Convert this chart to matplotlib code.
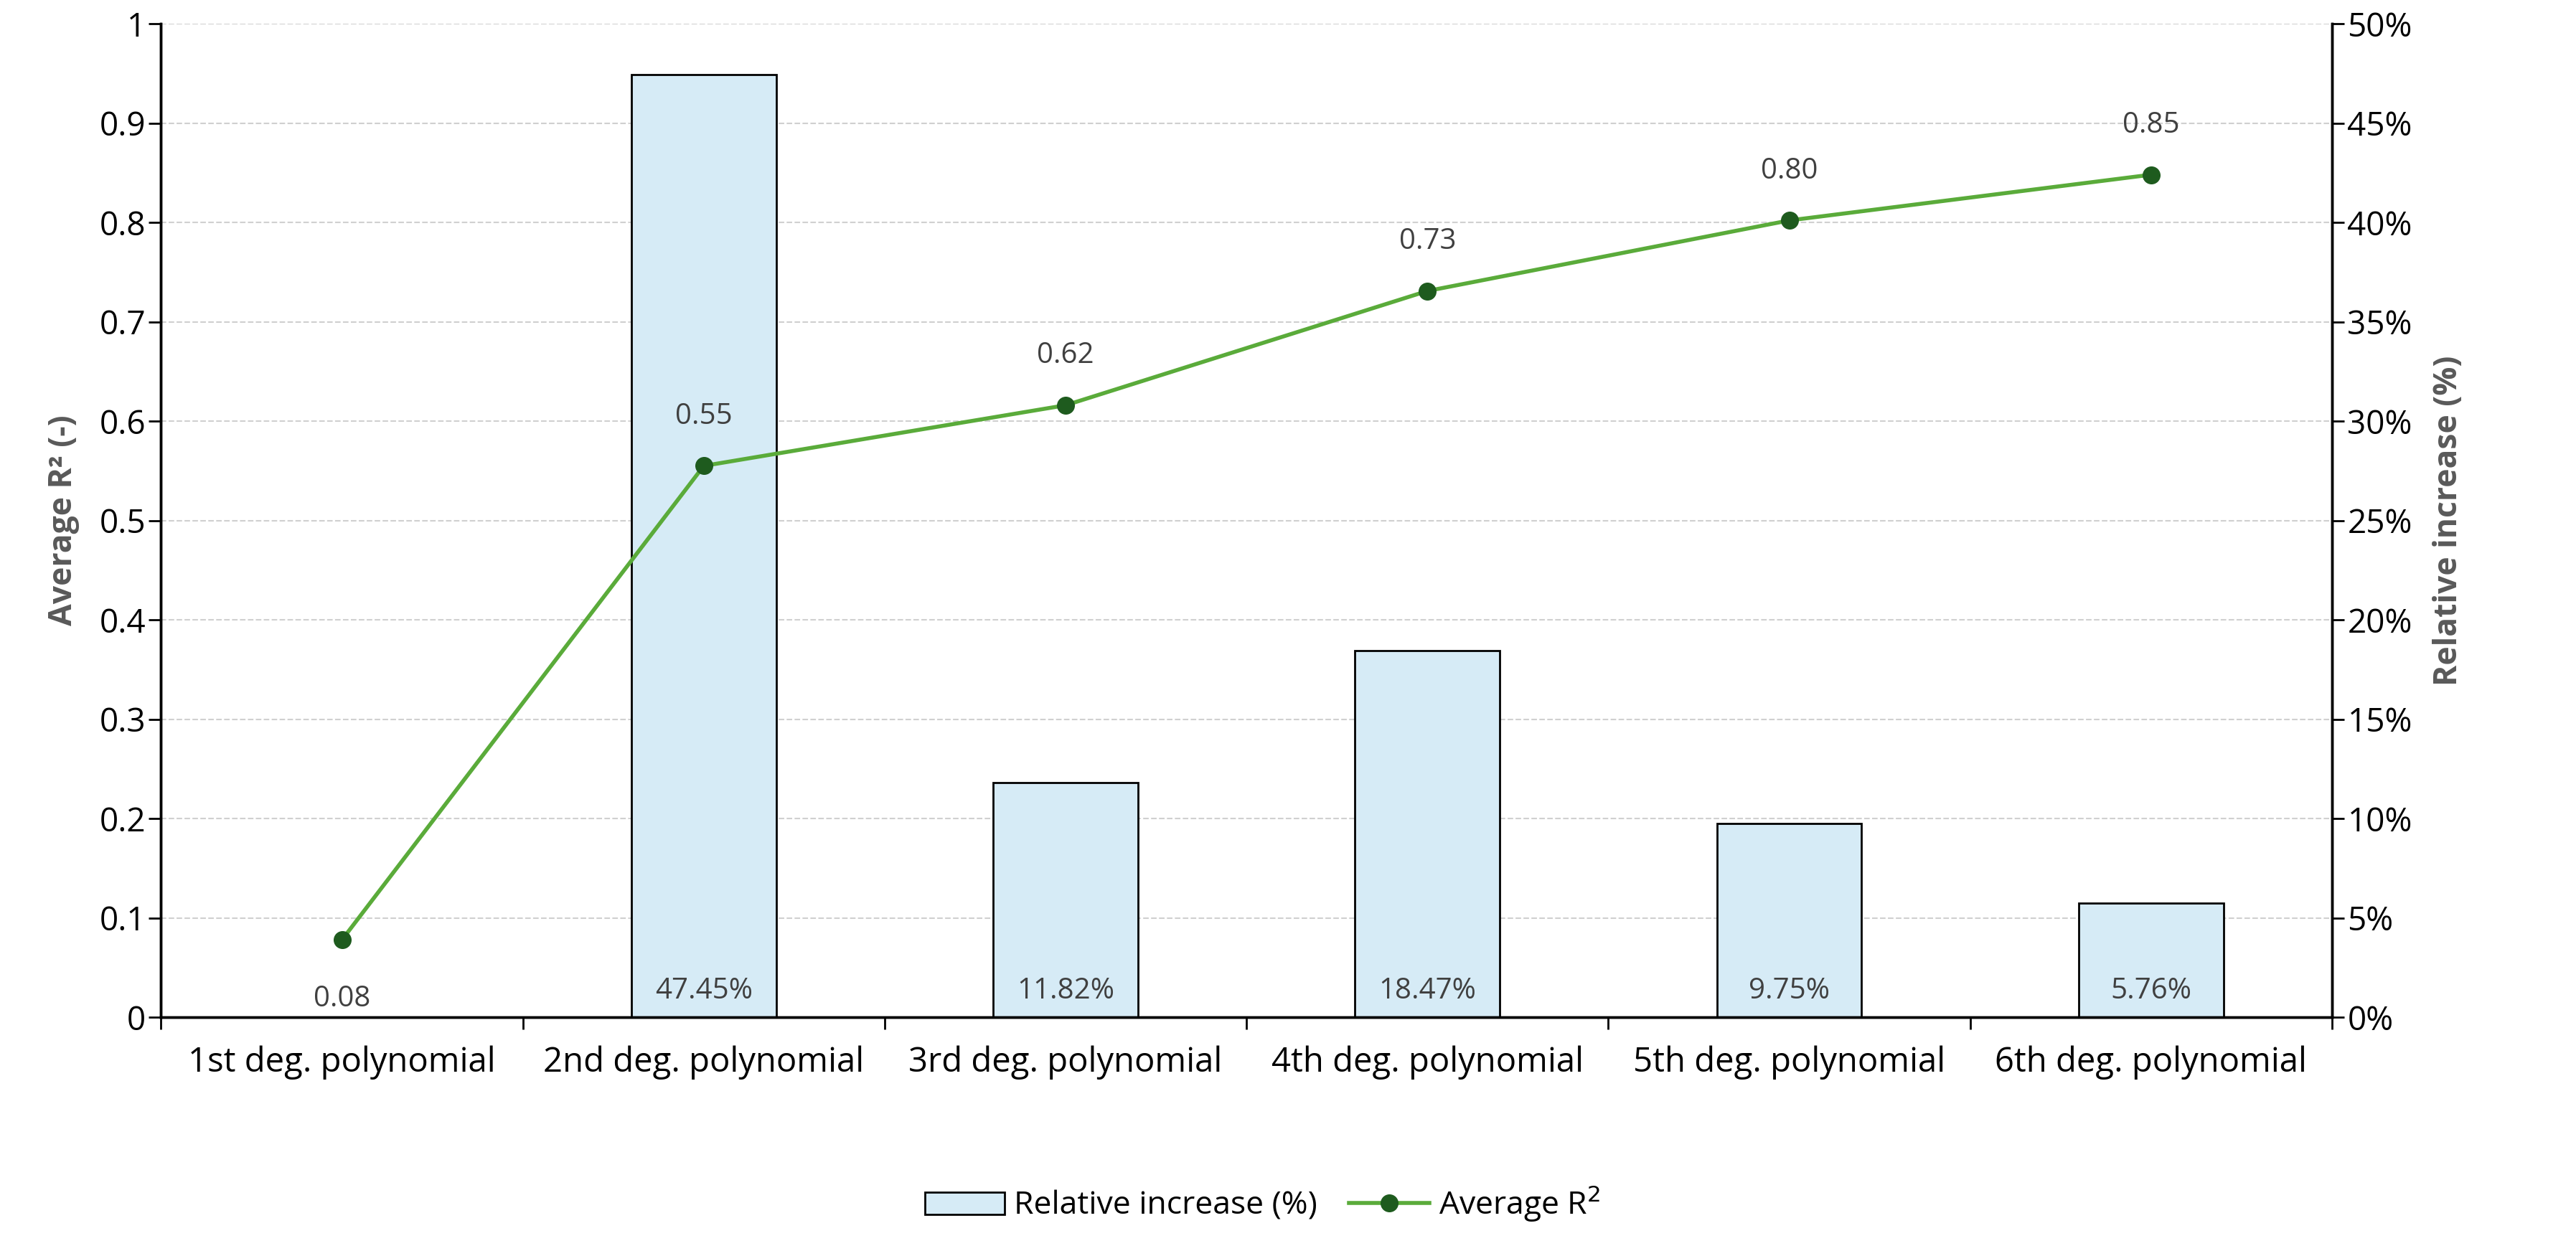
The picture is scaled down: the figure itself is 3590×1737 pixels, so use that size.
import matplotlib.pyplot as plt
import numpy as np

categories = ['1st deg. polynomial', '2nd deg. polynomial', '3rd deg. polynomial',
              '4th deg. polynomial', '5th deg. polynomial', '6th deg. polynomial']
avg_r2 = [0.078, 0.555, 0.616, 0.731, 0.802, 0.848]
r2_labels = ['0.08', '0.55', '0.62', '0.73', '0.80', '0.85']
rel_increase = [0.0, 47.45, 11.82, 18.47, 9.75, 5.76]

plt.rcParams['font.family'] = ['Open Sans', 'DejaVu Sans']
fig = plt.figure(figsize=(35.91, 17.37), dpi=100)
ax = fig.add_axes([0.0625, 0.1835, 0.8425, 0.7975])
ax2 = ax.twinx()
x = np.arange(len(categories))

# bars on the right axis
bars_x = x[1:]
ax2.bar(bars_x, rel_increase[1:], width=0.4, color='#d6ebf6', edgecolor='black',
        linewidth=2, label='Relative increase (%)', zorder=2)
for xi, v in zip(bars_x, rel_increase[1:]):
    ax2.text(xi, 0.6, f'{v:.2f}%', ha='center', va='bottom', fontsize=29, color='#404040')
ax2.set_ylim(0, 50)
ax2.set_yticks(np.arange(0, 51, 5))
ax2.set_yticklabels([f'{v}%' for v in range(0, 51, 5)], fontsize=33)
ax2.set_ylabel('Relative increase (%)', fontsize=32, fontweight='bold', color='#595959', labelpad=20)

# line on the left axis, drawn above bars
ax.set_zorder(ax2.get_zorder() + 1)
ax.patch.set_visible(False)
ax.plot(x, avg_r2, color='#5aab3a', linewidth=4, marker='o', markersize=17,
        markerfacecolor='#1e5b1e', markeredgecolor='#1e5b1e', label='Average R$^2$', zorder=3)
for i, (xi, v, lab) in enumerate(zip(x, avg_r2, r2_labels)):
    if i == 0:
        ax.text(xi, v - 0.045, lab, ha='center', va='top', fontsize=29, color='#404040')
    else:
        ax.text(xi, v + 0.035, lab, ha='center', va='bottom', fontsize=29, color='#404040')
ax.set_ylim(0, 1)
ax.set_yticks(np.arange(0, 1.01, 0.1))
ax.set_yticklabels(['0'] + [f'{v:.1f}' for v in np.arange(0.1, 0.95, 0.1)] + ['1'], fontsize=33)
ax.set_ylabel('Average R² (-)', fontsize=32, fontweight='bold', color='#595959', labelpad=20)
ax.set_xlim(-0.5, len(categories) - 0.5)
ax.set_xticks(x)
ax.set_xticklabels(categories, fontsize=34)
ax.tick_params(axis='x', length=0, pad=28)
ax.set_xticks(np.arange(-0.5, len(categories), 1), minor=True)
ax.tick_params(axis='x', which='minor', length=12, width=2)
ax.tick_params(axis='y', length=12, width=2)
ax2.tick_params(axis='y', length=12, width=2)

for yv in np.arange(0.1, 1.01, 0.1):
    ax2.axhline(yv * 50, color='#d0d0d0', linestyle='--', linewidth=1.5, zorder=0)

for a in (ax, ax2):
    a.spines['top'].set_visible(False)
    for s in ('left', 'right', 'bottom'):
        a.spines[s].set_linewidth(2.5)

h1, l1 = ax2.get_legend_handles_labels()
h2, l2 = ax.get_legend_handles_labels()
fig.legend(h1 + h2, l1 + l2, loc='lower center', bbox_to_anchor=(0.49, -0.005),
           ncol=2, frameon=False, fontsize=32, handlelength=2.5, columnspacing=1,
           handletextpad=0.3)

fig.savefig('out.png', dpi=100)
